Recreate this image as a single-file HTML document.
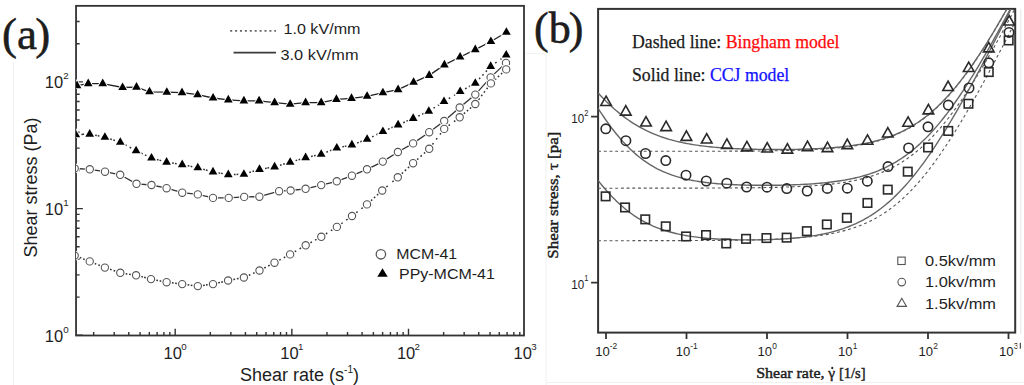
<!DOCTYPE html><html><head><meta charset="utf-8"><style>html,body{margin:0;padding:0;background:#fff;width:1024px;height:385px;overflow:hidden}svg{display:block}</style></head><body>
<svg width="1024" height="385" viewBox="0 0 1024 385">
<rect width="1024" height="385" fill="#fff"/>
<line x1="13.5" y1="62" x2="13.5" y2="385" stroke="#f0f0f0" stroke-width="1"/>
<line x1="546" y1="54" x2="546" y2="385" stroke="#f0f0f0" stroke-width="1"/>
<line x1="1020.8" y1="9" x2="1020.8" y2="334" stroke="#e6e6e6" stroke-width="1"/>
<line x1="546" y1="382.5" x2="1024" y2="382.5" stroke="#f0f0f0" stroke-width="1"/>
<line x1="526" y1="53.5" x2="546" y2="53.5" stroke="#f2f2f2" stroke-width="1"/>
<g font-family="Liberation Serif, serif" fill="#1e1e1e"><text x="2" y="48.6" font-size="45" stroke="#111" stroke-width="0.5">(a<tspan dx="-1.8">)</tspan></text></g>
<path d="M76.05 335.30H82.85M76.05 297.16H79.65M76.05 274.85H79.65M76.05 259.02H79.65M76.05 246.74H79.65M76.05 236.71H79.65M76.05 228.23H79.65M76.05 220.88H79.65M76.05 214.40H79.65M76.05 208.60H82.85M76.05 170.46H79.65M76.05 148.15H79.65M76.05 132.32H79.65M76.05 120.04H79.65M76.05 110.01H79.65M76.05 101.53H79.65M76.05 94.18H79.65M76.05 87.70H79.65M76.05 81.90H82.85M76.05 43.76H79.65M76.05 21.45H79.65M93.67 335.50V331.90M114.21 335.50V331.90M128.78 335.50V331.90M140.08 335.50V331.90M149.32 335.50V331.90M157.13 335.50V331.90M163.90 335.50V331.90M169.86 335.50V331.90M175.20 335.50V328.70M210.32 335.50V331.90M230.86 335.50V331.90M245.43 335.50V331.90M256.73 335.50V331.90M265.97 335.50V331.90M273.78 335.50V331.90M280.55 335.50V331.90M286.51 335.50V331.90M291.85 335.50V328.70M326.97 335.50V331.90M347.51 335.50V331.90M362.08 335.50V331.90M373.38 335.50V331.90M382.62 335.50V331.90M390.43 335.50V331.90M397.20 335.50V331.90M403.16 335.50V331.90M408.50 335.50V328.70M443.62 335.50V331.90M464.16 335.50V331.90M478.73 335.50V331.90M490.03 335.50V331.90M499.27 335.50V331.90M507.08 335.50V331.90M513.85 335.50V331.90M519.81 335.50V331.90" stroke="#333" stroke-width="1.4" fill="none"/>
<rect x="76.05" y="5.85" width="447.95" height="329.65" fill="none" stroke="#333" stroke-width="1.8"/>
<g font-family="Liberation Sans, sans-serif" fill="#1e1e1e">
<text x="68.6" y="88.4" font-size="16.5" text-anchor="end">10<tspan font-size="9.8" dy="-9.1">2</tspan></text>
<text x="68.6" y="215.0" font-size="16.5" text-anchor="end">10<tspan font-size="9.8" dy="-9.1">1</tspan></text>
<text x="68.6" y="341.7" font-size="16.5" text-anchor="end">10<tspan font-size="9.8" dy="-9.1">0</tspan></text>
<text x="175.1" y="359.2" font-size="16.5" text-anchor="middle">10<tspan font-size="9.7" dx="-0.7" dy="-9.3">0</tspan></text>
<text x="291.8" y="359.2" font-size="16.5" text-anchor="middle">10<tspan font-size="9.7" dx="-0.7" dy="-9.3">1</tspan></text>
<text x="408.4" y="359.2" font-size="16.5" text-anchor="middle">10<tspan font-size="9.7" dx="-0.7" dy="-9.3">2</tspan></text>
<text x="525.1" y="359.2" font-size="16.5" text-anchor="middle">10<tspan font-size="9.7" dx="-0.7" dy="-9.3">3</tspan></text>
<text x="240" y="380.6" font-size="18">Shear rate (s<tspan font-size="10" dy="-7.6">-1</tspan><tspan dy="7.6">)</tspan></text>
<text transform="translate(37.2 257.6) rotate(-90)" x="0" y="0" font-size="18">Shear stress (Pa)</text>
<text x="283.5" y="33.8" font-size="14.6" textLength="77" lengthAdjust="spacingAndGlyphs">1.0 kV/mm</text>
<text x="280.5" y="59.8" font-size="14.6" textLength="78" lengthAdjust="spacingAndGlyphs">3.0 kV/mm</text>
<text x="396.3" y="258.8" font-size="14.6" textLength="60.8" lengthAdjust="spacingAndGlyphs">MCM-41</text>
<text x="399" y="278.7" font-size="14.9" textLength="95.8" lengthAdjust="spacingAndGlyphs">PPy-MCM-41</text>
</g>
<line x1="230.2" y1="30.9" x2="276" y2="30.9" stroke="#666" stroke-width="1.7" stroke-dasharray="2 2.9"/>
<line x1="233.5" y1="52.7" x2="276" y2="52.7" stroke="#3a3a3a" stroke-width="1.7"/>
<circle cx="380.9" cy="254.3" r="4.7" fill="#fff" stroke="#555" stroke-width="1.3"/>
<polygon points="382.50,268.37 377.30,276.67 387.70,276.67" fill="#000"/>
<defs><clipPath id="ca"><rect x="76.05" y="5.85" width="447.95" height="329.65"/></clipPath>
<clipPath id="cb"><rect x="598.10" y="8.90" width="417.10" height="323.70"/></clipPath></defs>
<g clip-path="url(#ca)">
<path d="M77.0 85.6 L88.2 83.6 L102.7 83.6 L122.6 87.5 L136.5 87.1 L149.5 91.8 L166.8 92.2 L182.0 92.6 L197.6 94.7 L213.1 98.0 L228.3 99.9 L243.9 100.9 L259.1 100.9 L274.6 102.6 L290.2 104.2 L305.6 102.6 L321.2 102.6 L336.4 99.4 L351.5 98.4 L367.1 96.3 L382.9 92.7 L398.1 89.6 L413.6 82.3 L429.2 75.4 L444.4 64.9 L460.1 57.0 L475.3 49.6 L490.9 41.5 L506.4 32.2" fill="none" stroke="#222" stroke-width="1.3"/>
<path d="M81.40 134.40L83.10 134.34M82.40 134.36L84.10 134.30M95.19 135.22L96.85 135.56M97.75 135.74L99.41 136.08M110.23 138.93L111.84 139.45M113.36 139.95L114.97 140.47M125.23 144.85L126.73 145.66M129.67 147.24L131.17 148.05M141.16 153.10L142.70 153.83M144.90 154.87L146.44 155.60M156.90 159.47L158.54 159.91M159.56 160.19L161.20 160.63M172.13 162.99L173.81 163.26M174.99 163.44L176.67 163.71M187.69 165.73L189.35 166.07M190.65 166.33L192.31 166.67M203.21 169.26L204.85 169.70M205.95 170.00L207.59 170.44M218.51 172.87L220.19 173.17M221.11 173.33L222.79 173.63M233.90 174.46L235.60 174.41M236.60 174.39L238.30 174.34M249.25 172.55L250.88 172.05M252.52 171.55L254.15 171.05M265.02 168.49L266.70 168.21M267.40 168.09L269.08 167.81M279.96 165.28L281.59 164.79M283.21 164.31L284.84 163.82M295.57 160.60L297.19 160.11M298.61 159.69L300.23 159.20M311.08 156.44L312.74 156.09M314.06 155.81L315.72 155.46M326.39 152.20L327.97 151.57M330.03 150.73L331.61 150.10M342.29 146.87L343.95 146.53M344.75 146.37L346.41 146.03M357.15 142.96L358.75 142.38M360.25 141.82L361.85 141.24M372.12 136.82L373.65 136.07M376.35 134.73L377.88 133.98M388.04 129.27L389.60 128.59M391.40 127.81L392.96 127.13M403.24 122.69L404.81 122.01M406.49 121.29L408.06 120.61M418.28 116.05L419.83 115.34M422.17 114.26L423.72 113.55M433.52 108.19L434.95 107.27M437.85 105.43L439.28 104.51M448.77 98.56L450.21 97.67M453.99 95.33L455.43 94.44M465.11 88.80L466.60 87.98M468.90 86.72L470.39 85.90M479.08 79.07L480.23 77.82M482.43 75.43L483.57 74.17M485.77 71.78L486.92 70.53M495.21 63.08L496.58 62.07M500.32 59.33L501.69 58.32" fill="none" stroke="#333" stroke-width="1.5"/>
<path d="M74.7 168.4 L89.8 169.3 L105.0 171.7 L120.2 174.8 L136.5 183.8 L151.5 185.0 L166.6 188.2 L182.2 192.7 L197.8 194.4 L213.0 197.9 L228.7 197.9 L244.2 196.9 L259.4 196.7 L279.1 191.2 L290.6 190.5 L305.6 188.8 L321.2 185.1 L336.8 181.3 L351.9 175.7 L367.0 169.3 L382.8 161.6 L397.9 152.0 L413.1 143.4 L429.2 132.2 L444.2 121.0 L459.7 107.5 L475.3 94.6 L490.6 77.4 L506.0 62.9" fill="none" stroke="#333" stroke-width="1.3"/>
<path d="M79.74 257.55L81.32 258.16M83.08 258.84L84.66 259.45M94.70 263.44L96.27 264.08M98.33 264.92L99.90 265.56M110.02 269.33L111.63 269.87M113.57 270.53L115.18 271.07M125.63 273.64L127.31 273.91M129.09 274.19L130.77 274.46M141.33 276.63L142.98 277.05M144.12 277.35L145.77 277.77M156.30 280.15L157.96 280.48M159.64 280.82L161.30 281.15M171.96 282.85L173.65 283.06M175.15 283.24L176.84 283.45M187.56 284.79L189.24 285.00M190.76 285.20L192.44 285.41M203.15 285.40L204.84 285.17M205.96 285.03L207.65 284.80M218.25 282.85L219.91 282.45M221.19 282.15L222.85 281.75M233.41 279.49L235.08 279.18M236.92 278.82L238.59 278.51M248.83 275.29L250.38 274.59M253.02 273.41L254.57 272.71M264.29 268.01L265.80 267.22M268.20 265.98L269.71 265.19M279.27 260.16L280.77 259.37M283.83 257.73L285.33 256.94M294.76 251.68L296.23 250.82M299.57 248.88L301.04 248.02M310.44 242.72L311.93 241.90M315.07 240.20L316.56 239.38M325.86 233.91L327.29 233.00M330.91 230.70L332.34 229.79M341.28 223.74L342.66 222.74M346.24 220.16L347.62 219.16M356.27 212.70L357.62 211.66M361.38 208.74L362.73 207.70M370.98 200.76L372.24 199.61M373.97 198.02L375.23 196.88M376.96 195.29L378.22 194.14M386.32 187.01L387.62 185.91M392.38 181.89L393.68 180.79M401.77 173.64L403.02 172.49M404.82 170.83L406.08 169.67M407.88 168.01L409.13 166.86M417.12 159.60L418.39 158.47M420.52 156.57L421.78 155.43M423.91 153.53L425.18 152.40M432.45 144.49L433.47 143.13M436.19 139.53L437.21 138.17M439.93 134.57L440.95 133.21M448.52 125.66L449.88 124.65M454.02 121.55L455.38 120.54M463.81 113.80L465.10 112.69M466.85 111.20L468.15 110.10M469.90 108.61L471.19 107.50M478.56 99.70L479.59 98.34M481.24 96.15L482.27 94.79M483.93 92.61L484.96 91.25M486.61 89.06L487.64 87.70M494.88 79.75L496.14 78.61M497.92 76.97L499.18 75.83M500.96 74.19L502.22 73.05" fill="none" stroke="#333" stroke-width="1.5"/>
<polygon points="77.00,80.53 72.65,88.13 81.35,88.13" fill="#000" stroke="#fff" stroke-width="1.8" paint-order="stroke"/>
<polygon points="88.20,78.53 83.85,86.13 92.55,86.13" fill="#000" stroke="#fff" stroke-width="1.8" paint-order="stroke"/>
<polygon points="102.70,78.53 98.35,86.13 107.05,86.13" fill="#000" stroke="#fff" stroke-width="1.8" paint-order="stroke"/>
<polygon points="122.60,82.43 118.25,90.03 126.95,90.03" fill="#000" stroke="#fff" stroke-width="1.8" paint-order="stroke"/>
<polygon points="136.50,82.03 132.15,89.63 140.85,89.63" fill="#000" stroke="#fff" stroke-width="1.8" paint-order="stroke"/>
<polygon points="149.50,86.73 145.15,94.33 153.85,94.33" fill="#000" stroke="#fff" stroke-width="1.8" paint-order="stroke"/>
<polygon points="166.80,87.13 162.45,94.73 171.15,94.73" fill="#000" stroke="#fff" stroke-width="1.8" paint-order="stroke"/>
<polygon points="182.00,87.53 177.65,95.13 186.35,95.13" fill="#000" stroke="#fff" stroke-width="1.8" paint-order="stroke"/>
<polygon points="197.60,89.63 193.25,97.23 201.95,97.23" fill="#000" stroke="#fff" stroke-width="1.8" paint-order="stroke"/>
<polygon points="213.10,92.93 208.75,100.53 217.45,100.53" fill="#000" stroke="#fff" stroke-width="1.8" paint-order="stroke"/>
<polygon points="228.30,94.83 223.95,102.43 232.65,102.43" fill="#000" stroke="#fff" stroke-width="1.8" paint-order="stroke"/>
<polygon points="243.90,95.83 239.55,103.43 248.25,103.43" fill="#000" stroke="#fff" stroke-width="1.8" paint-order="stroke"/>
<polygon points="259.10,95.83 254.75,103.43 263.45,103.43" fill="#000" stroke="#fff" stroke-width="1.8" paint-order="stroke"/>
<polygon points="274.60,97.53 270.25,105.13 278.95,105.13" fill="#000" stroke="#fff" stroke-width="1.8" paint-order="stroke"/>
<polygon points="290.20,99.13 285.85,106.73 294.55,106.73" fill="#000" stroke="#fff" stroke-width="1.8" paint-order="stroke"/>
<polygon points="305.60,97.53 301.25,105.13 309.95,105.13" fill="#000" stroke="#fff" stroke-width="1.8" paint-order="stroke"/>
<polygon points="321.20,97.53 316.85,105.13 325.55,105.13" fill="#000" stroke="#fff" stroke-width="1.8" paint-order="stroke"/>
<polygon points="336.40,94.33 332.05,101.93 340.75,101.93" fill="#000" stroke="#fff" stroke-width="1.8" paint-order="stroke"/>
<polygon points="351.50,93.33 347.15,100.93 355.85,100.93" fill="#000" stroke="#fff" stroke-width="1.8" paint-order="stroke"/>
<polygon points="367.10,91.23 362.75,98.83 371.45,98.83" fill="#000" stroke="#fff" stroke-width="1.8" paint-order="stroke"/>
<polygon points="382.90,87.63 378.55,95.23 387.25,95.23" fill="#000" stroke="#fff" stroke-width="1.8" paint-order="stroke"/>
<polygon points="398.10,84.53 393.75,92.13 402.45,92.13" fill="#000" stroke="#fff" stroke-width="1.8" paint-order="stroke"/>
<polygon points="413.60,77.23 409.25,84.83 417.95,84.83" fill="#000" stroke="#fff" stroke-width="1.8" paint-order="stroke"/>
<polygon points="429.20,70.33 424.85,77.93 433.55,77.93" fill="#000" stroke="#fff" stroke-width="1.8" paint-order="stroke"/>
<polygon points="444.40,59.83 440.05,67.43 448.75,67.43" fill="#000" stroke="#fff" stroke-width="1.8" paint-order="stroke"/>
<polygon points="460.10,51.93 455.75,59.53 464.45,59.53" fill="#000" stroke="#fff" stroke-width="1.8" paint-order="stroke"/>
<polygon points="475.30,44.53 470.95,52.13 479.65,52.13" fill="#000" stroke="#fff" stroke-width="1.8" paint-order="stroke"/>
<polygon points="490.90,36.43 486.55,44.03 495.25,44.03" fill="#000" stroke="#fff" stroke-width="1.8" paint-order="stroke"/>
<polygon points="506.40,27.13 502.05,34.73 510.75,34.73" fill="#000" stroke="#fff" stroke-width="1.8" paint-order="stroke"/>
<polygon points="75.80,129.53 71.45,137.13 80.15,137.13" fill="#000" stroke="#fff" stroke-width="1.8" paint-order="stroke"/>
<polygon points="89.70,129.03 85.35,136.63 94.05,136.63" fill="#000" stroke="#fff" stroke-width="1.8" paint-order="stroke"/>
<polygon points="104.90,132.13 100.55,139.73 109.25,139.73" fill="#000" stroke="#fff" stroke-width="1.8" paint-order="stroke"/>
<polygon points="120.30,137.13 115.95,144.73 124.65,144.73" fill="#000" stroke="#fff" stroke-width="1.8" paint-order="stroke"/>
<polygon points="136.10,145.63 131.75,153.23 140.45,153.23" fill="#000" stroke="#fff" stroke-width="1.8" paint-order="stroke"/>
<polygon points="151.50,152.93 147.15,160.53 155.85,160.53" fill="#000" stroke="#fff" stroke-width="1.8" paint-order="stroke"/>
<polygon points="166.60,157.03 162.25,164.63 170.95,164.63" fill="#000" stroke="#fff" stroke-width="1.8" paint-order="stroke"/>
<polygon points="182.20,159.53 177.85,167.13 186.55,167.13" fill="#000" stroke="#fff" stroke-width="1.8" paint-order="stroke"/>
<polygon points="197.80,162.73 193.45,170.33 202.15,170.33" fill="#000" stroke="#fff" stroke-width="1.8" paint-order="stroke"/>
<polygon points="213.00,166.83 208.65,174.43 217.35,174.43" fill="#000" stroke="#fff" stroke-width="1.8" paint-order="stroke"/>
<polygon points="228.30,169.53 223.95,177.13 232.65,177.13" fill="#000" stroke="#fff" stroke-width="1.8" paint-order="stroke"/>
<polygon points="243.90,169.13 239.55,176.73 248.25,176.73" fill="#000" stroke="#fff" stroke-width="1.8" paint-order="stroke"/>
<polygon points="259.50,164.33 255.15,171.93 263.85,171.93" fill="#000" stroke="#fff" stroke-width="1.8" paint-order="stroke"/>
<polygon points="274.60,161.83 270.25,169.43 278.95,169.43" fill="#000" stroke="#fff" stroke-width="1.8" paint-order="stroke"/>
<polygon points="290.20,157.13 285.85,164.73 294.55,164.73" fill="#000" stroke="#fff" stroke-width="1.8" paint-order="stroke"/>
<polygon points="305.60,152.53 301.25,160.13 309.95,160.13" fill="#000" stroke="#fff" stroke-width="1.8" paint-order="stroke"/>
<polygon points="321.20,149.23 316.85,156.83 325.55,156.83" fill="#000" stroke="#fff" stroke-width="1.8" paint-order="stroke"/>
<polygon points="336.80,142.93 332.45,150.53 341.15,150.53" fill="#000" stroke="#fff" stroke-width="1.8" paint-order="stroke"/>
<polygon points="351.90,139.83 347.55,147.43 356.25,147.43" fill="#000" stroke="#fff" stroke-width="1.8" paint-order="stroke"/>
<polygon points="367.10,134.23 362.75,141.83 371.45,141.83" fill="#000" stroke="#fff" stroke-width="1.8" paint-order="stroke"/>
<polygon points="382.90,126.43 378.55,134.03 387.25,134.03" fill="#000" stroke="#fff" stroke-width="1.8" paint-order="stroke"/>
<polygon points="398.10,119.83 393.75,127.43 402.45,127.43" fill="#000" stroke="#fff" stroke-width="1.8" paint-order="stroke"/>
<polygon points="413.20,113.33 408.85,120.93 417.55,120.93" fill="#000" stroke="#fff" stroke-width="1.8" paint-order="stroke"/>
<polygon points="428.80,106.13 424.45,113.73 433.15,113.73" fill="#000" stroke="#fff" stroke-width="1.8" paint-order="stroke"/>
<polygon points="444.00,96.43 439.65,104.03 448.35,104.03" fill="#000" stroke="#fff" stroke-width="1.8" paint-order="stroke"/>
<polygon points="460.20,86.43 455.85,94.03 464.55,94.03" fill="#000" stroke="#fff" stroke-width="1.8" paint-order="stroke"/>
<polygon points="475.30,78.13 470.95,85.73 479.65,85.73" fill="#000" stroke="#fff" stroke-width="1.8" paint-order="stroke"/>
<polygon points="490.70,61.33 486.35,68.93 495.05,68.93" fill="#000" stroke="#fff" stroke-width="1.8" paint-order="stroke"/>
<polygon points="506.20,49.93 501.85,57.53 510.55,57.53" fill="#000" stroke="#fff" stroke-width="1.8" paint-order="stroke"/>
<circle cx="74.7" cy="168.4" r="3.8" fill="#fff" stroke="#fff" stroke-width="2.6"/>
<circle cx="74.7" cy="168.4" r="3.65" fill="#fff" stroke="#555" stroke-width="1.1"/>
<circle cx="89.8" cy="169.3" r="3.8" fill="#fff" stroke="#fff" stroke-width="2.6"/>
<circle cx="89.8" cy="169.3" r="3.65" fill="#fff" stroke="#555" stroke-width="1.1"/>
<circle cx="105.0" cy="171.7" r="3.8" fill="#fff" stroke="#fff" stroke-width="2.6"/>
<circle cx="105.0" cy="171.7" r="3.65" fill="#fff" stroke="#555" stroke-width="1.1"/>
<circle cx="120.2" cy="174.8" r="3.8" fill="#fff" stroke="#fff" stroke-width="2.6"/>
<circle cx="120.2" cy="174.8" r="3.65" fill="#fff" stroke="#555" stroke-width="1.1"/>
<circle cx="136.5" cy="183.8" r="3.8" fill="#fff" stroke="#fff" stroke-width="2.6"/>
<circle cx="136.5" cy="183.8" r="3.65" fill="#fff" stroke="#555" stroke-width="1.1"/>
<circle cx="151.5" cy="185.0" r="3.8" fill="#fff" stroke="#fff" stroke-width="2.6"/>
<circle cx="151.5" cy="185.0" r="3.65" fill="#fff" stroke="#555" stroke-width="1.1"/>
<circle cx="166.6" cy="188.2" r="3.8" fill="#fff" stroke="#fff" stroke-width="2.6"/>
<circle cx="166.6" cy="188.2" r="3.65" fill="#fff" stroke="#555" stroke-width="1.1"/>
<circle cx="182.2" cy="192.7" r="3.8" fill="#fff" stroke="#fff" stroke-width="2.6"/>
<circle cx="182.2" cy="192.7" r="3.65" fill="#fff" stroke="#555" stroke-width="1.1"/>
<circle cx="197.8" cy="194.4" r="3.8" fill="#fff" stroke="#fff" stroke-width="2.6"/>
<circle cx="197.8" cy="194.4" r="3.65" fill="#fff" stroke="#555" stroke-width="1.1"/>
<circle cx="213.0" cy="197.9" r="3.8" fill="#fff" stroke="#fff" stroke-width="2.6"/>
<circle cx="213.0" cy="197.9" r="3.65" fill="#fff" stroke="#555" stroke-width="1.1"/>
<circle cx="228.7" cy="197.9" r="3.8" fill="#fff" stroke="#fff" stroke-width="2.6"/>
<circle cx="228.7" cy="197.9" r="3.65" fill="#fff" stroke="#555" stroke-width="1.1"/>
<circle cx="244.2" cy="196.9" r="3.8" fill="#fff" stroke="#fff" stroke-width="2.6"/>
<circle cx="244.2" cy="196.9" r="3.65" fill="#fff" stroke="#555" stroke-width="1.1"/>
<circle cx="259.4" cy="196.7" r="3.8" fill="#fff" stroke="#fff" stroke-width="2.6"/>
<circle cx="259.4" cy="196.7" r="3.65" fill="#fff" stroke="#555" stroke-width="1.1"/>
<circle cx="279.1" cy="191.2" r="3.8" fill="#fff" stroke="#fff" stroke-width="2.6"/>
<circle cx="279.1" cy="191.2" r="3.65" fill="#fff" stroke="#555" stroke-width="1.1"/>
<circle cx="290.6" cy="190.5" r="3.8" fill="#fff" stroke="#fff" stroke-width="2.6"/>
<circle cx="290.6" cy="190.5" r="3.65" fill="#fff" stroke="#555" stroke-width="1.1"/>
<circle cx="305.6" cy="188.8" r="3.8" fill="#fff" stroke="#fff" stroke-width="2.6"/>
<circle cx="305.6" cy="188.8" r="3.65" fill="#fff" stroke="#555" stroke-width="1.1"/>
<circle cx="321.2" cy="185.1" r="3.8" fill="#fff" stroke="#fff" stroke-width="2.6"/>
<circle cx="321.2" cy="185.1" r="3.65" fill="#fff" stroke="#555" stroke-width="1.1"/>
<circle cx="336.8" cy="181.3" r="3.8" fill="#fff" stroke="#fff" stroke-width="2.6"/>
<circle cx="336.8" cy="181.3" r="3.65" fill="#fff" stroke="#555" stroke-width="1.1"/>
<circle cx="351.9" cy="175.7" r="3.8" fill="#fff" stroke="#fff" stroke-width="2.6"/>
<circle cx="351.9" cy="175.7" r="3.65" fill="#fff" stroke="#555" stroke-width="1.1"/>
<circle cx="367.0" cy="169.3" r="3.8" fill="#fff" stroke="#fff" stroke-width="2.6"/>
<circle cx="367.0" cy="169.3" r="3.65" fill="#fff" stroke="#555" stroke-width="1.1"/>
<circle cx="382.8" cy="161.6" r="3.8" fill="#fff" stroke="#fff" stroke-width="2.6"/>
<circle cx="382.8" cy="161.6" r="3.65" fill="#fff" stroke="#555" stroke-width="1.1"/>
<circle cx="397.9" cy="152.0" r="3.8" fill="#fff" stroke="#fff" stroke-width="2.6"/>
<circle cx="397.9" cy="152.0" r="3.65" fill="#fff" stroke="#555" stroke-width="1.1"/>
<circle cx="413.1" cy="143.4" r="3.8" fill="#fff" stroke="#fff" stroke-width="2.6"/>
<circle cx="413.1" cy="143.4" r="3.65" fill="#fff" stroke="#555" stroke-width="1.1"/>
<circle cx="429.2" cy="132.2" r="3.8" fill="#fff" stroke="#fff" stroke-width="2.6"/>
<circle cx="429.2" cy="132.2" r="3.65" fill="#fff" stroke="#555" stroke-width="1.1"/>
<circle cx="444.2" cy="121.0" r="3.8" fill="#fff" stroke="#fff" stroke-width="2.6"/>
<circle cx="444.2" cy="121.0" r="3.65" fill="#fff" stroke="#555" stroke-width="1.1"/>
<circle cx="459.7" cy="107.5" r="3.8" fill="#fff" stroke="#fff" stroke-width="2.6"/>
<circle cx="459.7" cy="107.5" r="3.65" fill="#fff" stroke="#555" stroke-width="1.1"/>
<circle cx="475.3" cy="94.6" r="3.8" fill="#fff" stroke="#fff" stroke-width="2.6"/>
<circle cx="475.3" cy="94.6" r="3.65" fill="#fff" stroke="#555" stroke-width="1.1"/>
<circle cx="490.6" cy="77.4" r="3.8" fill="#fff" stroke="#fff" stroke-width="2.6"/>
<circle cx="490.6" cy="77.4" r="3.65" fill="#fff" stroke="#555" stroke-width="1.1"/>
<circle cx="506.0" cy="62.9" r="3.8" fill="#fff" stroke="#fff" stroke-width="2.6"/>
<circle cx="506.0" cy="62.9" r="3.65" fill="#fff" stroke="#555" stroke-width="1.1"/>
<circle cx="74.7" cy="255.6" r="3.8" fill="#fff" stroke="#fff" stroke-width="2.6"/>
<circle cx="74.7" cy="255.6" r="3.65" fill="#fff" stroke="#555" stroke-width="1.1"/>
<circle cx="89.7" cy="261.4" r="3.8" fill="#fff" stroke="#fff" stroke-width="2.6"/>
<circle cx="89.7" cy="261.4" r="3.65" fill="#fff" stroke="#555" stroke-width="1.1"/>
<circle cx="104.9" cy="267.6" r="3.8" fill="#fff" stroke="#fff" stroke-width="2.6"/>
<circle cx="104.9" cy="267.6" r="3.65" fill="#fff" stroke="#555" stroke-width="1.1"/>
<circle cx="120.3" cy="272.8" r="3.8" fill="#fff" stroke="#fff" stroke-width="2.6"/>
<circle cx="120.3" cy="272.8" r="3.65" fill="#fff" stroke="#555" stroke-width="1.1"/>
<circle cx="136.1" cy="275.3" r="3.8" fill="#fff" stroke="#fff" stroke-width="2.6"/>
<circle cx="136.1" cy="275.3" r="3.65" fill="#fff" stroke="#555" stroke-width="1.1"/>
<circle cx="151.0" cy="279.1" r="3.8" fill="#fff" stroke="#fff" stroke-width="2.6"/>
<circle cx="151.0" cy="279.1" r="3.65" fill="#fff" stroke="#555" stroke-width="1.1"/>
<circle cx="166.6" cy="282.2" r="3.8" fill="#fff" stroke="#fff" stroke-width="2.6"/>
<circle cx="166.6" cy="282.2" r="3.65" fill="#fff" stroke="#555" stroke-width="1.1"/>
<circle cx="182.2" cy="284.1" r="3.8" fill="#fff" stroke="#fff" stroke-width="2.6"/>
<circle cx="182.2" cy="284.1" r="3.65" fill="#fff" stroke="#555" stroke-width="1.1"/>
<circle cx="197.8" cy="286.1" r="3.8" fill="#fff" stroke="#fff" stroke-width="2.6"/>
<circle cx="197.8" cy="286.1" r="3.65" fill="#fff" stroke="#555" stroke-width="1.1"/>
<circle cx="213.0" cy="284.1" r="3.8" fill="#fff" stroke="#fff" stroke-width="2.6"/>
<circle cx="213.0" cy="284.1" r="3.65" fill="#fff" stroke="#555" stroke-width="1.1"/>
<circle cx="228.1" cy="280.5" r="3.8" fill="#fff" stroke="#fff" stroke-width="2.6"/>
<circle cx="228.1" cy="280.5" r="3.65" fill="#fff" stroke="#555" stroke-width="1.1"/>
<circle cx="243.9" cy="277.5" r="3.8" fill="#fff" stroke="#fff" stroke-width="2.6"/>
<circle cx="243.9" cy="277.5" r="3.65" fill="#fff" stroke="#555" stroke-width="1.1"/>
<circle cx="259.5" cy="270.5" r="3.8" fill="#fff" stroke="#fff" stroke-width="2.6"/>
<circle cx="259.5" cy="270.5" r="3.65" fill="#fff" stroke="#555" stroke-width="1.1"/>
<circle cx="274.5" cy="262.7" r="3.8" fill="#fff" stroke="#fff" stroke-width="2.6"/>
<circle cx="274.5" cy="262.7" r="3.65" fill="#fff" stroke="#555" stroke-width="1.1"/>
<circle cx="290.1" cy="254.4" r="3.8" fill="#fff" stroke="#fff" stroke-width="2.6"/>
<circle cx="290.1" cy="254.4" r="3.65" fill="#fff" stroke="#555" stroke-width="1.1"/>
<circle cx="305.7" cy="245.3" r="3.8" fill="#fff" stroke="#fff" stroke-width="2.6"/>
<circle cx="305.7" cy="245.3" r="3.65" fill="#fff" stroke="#555" stroke-width="1.1"/>
<circle cx="321.3" cy="236.8" r="3.8" fill="#fff" stroke="#fff" stroke-width="2.6"/>
<circle cx="321.3" cy="236.8" r="3.65" fill="#fff" stroke="#555" stroke-width="1.1"/>
<circle cx="336.9" cy="226.9" r="3.8" fill="#fff" stroke="#fff" stroke-width="2.6"/>
<circle cx="336.9" cy="226.9" r="3.65" fill="#fff" stroke="#555" stroke-width="1.1"/>
<circle cx="352.0" cy="216.0" r="3.8" fill="#fff" stroke="#fff" stroke-width="2.6"/>
<circle cx="352.0" cy="216.0" r="3.65" fill="#fff" stroke="#555" stroke-width="1.1"/>
<circle cx="367.0" cy="204.4" r="3.8" fill="#fff" stroke="#fff" stroke-width="2.6"/>
<circle cx="367.0" cy="204.4" r="3.65" fill="#fff" stroke="#555" stroke-width="1.1"/>
<circle cx="382.2" cy="190.5" r="3.8" fill="#fff" stroke="#fff" stroke-width="2.6"/>
<circle cx="382.2" cy="190.5" r="3.65" fill="#fff" stroke="#555" stroke-width="1.1"/>
<circle cx="397.8" cy="177.3" r="3.8" fill="#fff" stroke="#fff" stroke-width="2.6"/>
<circle cx="397.8" cy="177.3" r="3.65" fill="#fff" stroke="#555" stroke-width="1.1"/>
<circle cx="413.1" cy="163.2" r="3.8" fill="#fff" stroke="#fff" stroke-width="2.6"/>
<circle cx="413.1" cy="163.2" r="3.65" fill="#fff" stroke="#555" stroke-width="1.1"/>
<circle cx="429.2" cy="148.8" r="3.8" fill="#fff" stroke="#fff" stroke-width="2.6"/>
<circle cx="429.2" cy="148.8" r="3.65" fill="#fff" stroke="#555" stroke-width="1.1"/>
<circle cx="444.2" cy="128.9" r="3.8" fill="#fff" stroke="#fff" stroke-width="2.6"/>
<circle cx="444.2" cy="128.9" r="3.65" fill="#fff" stroke="#555" stroke-width="1.1"/>
<circle cx="459.7" cy="117.3" r="3.8" fill="#fff" stroke="#fff" stroke-width="2.6"/>
<circle cx="459.7" cy="117.3" r="3.65" fill="#fff" stroke="#555" stroke-width="1.1"/>
<circle cx="475.3" cy="104.0" r="3.8" fill="#fff" stroke="#fff" stroke-width="2.6"/>
<circle cx="475.3" cy="104.0" r="3.65" fill="#fff" stroke="#555" stroke-width="1.1"/>
<circle cx="490.9" cy="83.4" r="3.8" fill="#fff" stroke="#fff" stroke-width="2.6"/>
<circle cx="490.9" cy="83.4" r="3.65" fill="#fff" stroke="#555" stroke-width="1.1"/>
<circle cx="506.2" cy="69.4" r="3.8" fill="#fff" stroke="#fff" stroke-width="2.6"/>
<circle cx="506.2" cy="69.4" r="3.65" fill="#fff" stroke="#555" stroke-width="1.1"/>
</g>
<g font-family="Liberation Serif, serif" fill="#1e1e1e"><text x="534" y="43.2" font-size="44" stroke="#111" stroke-width="0.5">(b<tspan dx="-2">)</tspan></text></g>
<path d="M606.00 332.60V339.10M686.50 332.60V339.10M767.00 332.60V339.10M847.50 332.60V339.10M928.00 332.60V339.10M1008.50 332.60V339.10M598.10 282.70H591.10M598.10 116.60H591.10" stroke="#333" stroke-width="1.8" fill="none"/>
<rect x="598.10" y="8.90" width="417.10" height="323.70" fill="none" stroke="#333" stroke-width="2"/>
<g font-family="Liberation Sans, sans-serif" fill="#1e1e1e">
<text x="606.2" y="356.2" font-size="13.1" text-anchor="middle">10<tspan font-size="8.4" dy="-7.3">-2</tspan></text>
<text x="686.7" y="356.2" font-size="13.1" text-anchor="middle">10<tspan font-size="8.4" dy="-7.3">-1</tspan></text>
<text x="767.2" y="356.2" font-size="13.1" text-anchor="middle">10<tspan font-size="8.4" dy="-7.3">0</tspan></text>
<text x="847.7" y="356.2" font-size="13.1" text-anchor="middle">10<tspan font-size="8.4" dy="-7.3">1</tspan></text>
<text x="928.2" y="356.2" font-size="13.1" text-anchor="middle">10<tspan font-size="8.4" dy="-7.3">2</tspan></text>
<text x="1008.7" y="356.2" font-size="13.1" text-anchor="middle">10<tspan font-size="8.4" dy="-7.3">3</tspan></text>
<text transform="translate(588.3 123.4) scale(0.89 1)" font-size="13.1" text-anchor="end">10<tspan font-size="8.4" dy="-7.3">2</tspan></text>
<text transform="translate(588.3 288.6) scale(0.89 1)" font-size="13.1" text-anchor="end">10<tspan font-size="8.4" dy="-7.3">1</tspan></text>
<text x="925" y="266.0" font-size="15.2" textLength="71" lengthAdjust="spacingAndGlyphs">0.5kv/mm</text>
<text x="925" y="287.1" font-size="15.2" textLength="71" lengthAdjust="spacingAndGlyphs">1.0kv/mm</text>
<text x="925" y="309.1" font-size="15.2" textLength="71" lengthAdjust="spacingAndGlyphs">1.5kv/mm</text>
</g>
<rect x="1017.4" y="340.5" width="2.2" height="10" fill="#fff"/>
<rect x="1019.7" y="342.8" width="1.3" height="5.9" fill="#555"/>
<g font-family="Liberation Serif, serif" font-size="18.4" stroke-width="0.25">
<text x="632.0" y="48.3" fill="#1a1a1a" stroke="#1a1a1a" textLength="207.5" lengthAdjust="spacingAndGlyphs">Dashed line: <tspan fill="#ff0a0a" stroke="#ff0a0a">Bingham model</tspan></text>
<text x="632.0" y="80.9" fill="#1a1a1a" stroke="#1a1a1a" textLength="157.3" lengthAdjust="spacingAndGlyphs">Solid line: <tspan fill="#1212ff" stroke="#1212ff">CCJ model</tspan></text>
</g>
<g font-family="Liberation Serif, serif" fill="#1e1e1e" stroke="#1e1e1e" stroke-width="0.45">
<text x="756.2" y="377.8" font-size="15.4" textLength="68.3" lengthAdjust="spacingAndGlyphs">Shear rate,</text>
<text x="828.2" y="377.8" font-size="15.4">&#947;</text>
<text x="838.9" y="377.8" font-size="15.6" textLength="26.6" lengthAdjust="spacingAndGlyphs">[1/s]</text>
<circle cx="832.3" cy="368.0" r="0.9"/>
<text transform="translate(558.3 258.7) rotate(-90)" font-size="15.6" textLength="127" lengthAdjust="spacingAndGlyphs">Shear stress, &#964; [pa]</text>
</g>
<rect x="897.8" y="257.1" width="7.4" height="7.4" fill="none" stroke="#555" stroke-width="1.1"/>
<circle cx="901.7" cy="282.1" r="3.8" fill="none" stroke="#555" stroke-width="1.1"/>
<polygon points="901.8,298.3 897.1,306.4 906.5,306.4" fill="none" stroke="#555" stroke-width="1.1"/>
<g clip-path="url(#cb)" fill="none">
<path d="M598.10 151.31 L600.00 151.31 L601.89 151.31 L603.79 151.31 L605.68 151.31 L607.58 151.31 L609.48 151.31 L611.37 151.31 L613.27 151.31 L615.16 151.31 L617.06 151.31 L618.96 151.31 L620.85 151.31 L622.75 151.31 L624.64 151.31 L626.54 151.31 L628.43 151.31 L630.33 151.31 L632.23 151.31 L634.12 151.31 L636.02 151.31 L637.91 151.31 L639.81 151.30 L641.71 151.30 L643.60 151.30 L645.50 151.30 L647.39 151.30 L649.29 151.30 L651.19 151.30 L653.08 151.30 L654.98 151.30 L656.87 151.30 L658.77 151.30 L660.67 151.29 L662.56 151.29 L664.46 151.29 L666.35 151.29 L668.25 151.29 L670.14 151.29 L672.04 151.29 L673.94 151.28 L675.83 151.28 L677.73 151.28 L679.62 151.28 L681.52 151.28 L683.42 151.27 L685.31 151.27 L687.21 151.27 L689.10 151.27 L691.00 151.26 L692.90 151.26 L694.79 151.26 L696.69 151.25 L698.58 151.25 L700.48 151.25 L702.38 151.24 L704.27 151.24 L706.17 151.23 L708.06 151.23 L709.96 151.23 L711.85 151.22 L713.75 151.22 L715.65 151.21 L717.54 151.20 L719.44 151.20 L721.33 151.19 L723.23 151.18 L725.13 151.18 L727.02 151.17 L728.92 151.16 L730.81 151.15 L732.71 151.14 L734.61 151.13 L736.50 151.12 L738.40 151.11 L740.29 151.10 L742.19 151.09 L744.09 151.07 L745.98 151.06 L747.88 151.05 L749.77 151.03 L751.67 151.02 L753.56 151.00 L755.46 150.98 L757.36 150.96 L759.25 150.94 L761.15 150.92 L763.04 150.90 L764.94 150.88 L766.84 150.85 L768.73 150.83 L770.63 150.80 L772.52 150.77 L774.42 150.74 L776.32 150.71 L778.21 150.68 L780.11 150.64 L782.00 150.60 L783.90 150.56 L785.80 150.52 L787.69 150.48 L789.59 150.43 L791.48 150.38 L793.38 150.33 L795.27 150.28 L797.17 150.22 L799.07 150.16 L800.96 150.09 L802.86 150.03 L804.75 149.96 L806.65 149.88 L808.55 149.80 L810.44 149.72 L812.34 149.63 L814.23 149.54 L816.13 149.44 L818.03 149.33 L819.92 149.23 L821.82 149.11 L823.71 148.99 L825.61 148.86 L827.51 148.73 L829.40 148.59 L831.30 148.44 L833.19 148.28 L835.09 148.12 L836.98 147.94 L838.88 147.76 L840.78 147.56 L842.67 147.36 L844.57 147.15 L846.46 146.92 L848.36 146.68 L850.26 146.43 L852.15 146.17 L854.05 145.90 L855.94 145.60 L857.84 145.30 L859.74 144.98 L861.63 144.64 L863.53 144.29 L865.42 143.91 L867.32 143.52 L869.22 143.11 L871.11 142.68 L873.01 142.23 L874.90 141.76 L876.80 141.26 L878.69 140.74 L880.59 140.19 L882.49 139.62 L884.38 139.02 L886.28 138.39 L888.17 137.73 L890.07 137.05 L891.97 136.33 L893.86 135.58 L895.76 134.80 L897.65 133.98 L899.55 133.12 L901.45 132.23 L903.34 131.31 L905.24 130.34 L907.13 129.33 L909.03 128.28 L910.92 127.19 L912.82 126.06 L914.72 124.88 L916.61 123.66 L918.51 122.39 L920.40 121.07 L922.30 119.71 L924.20 118.30 L926.09 116.83 L927.99 115.32 L929.88 113.76 L931.78 112.15 L933.68 110.48 L935.57 108.77 L937.47 107.00 L939.36 105.17 L941.26 103.30 L943.16 101.37 L945.05 99.39 L946.95 97.36 L948.84 95.27 L950.74 93.13 L952.63 90.94 L954.53 88.69 L956.43 86.40 L958.32 84.05 L960.22 81.65 L962.11 79.21 L964.01 76.71 L965.91 74.16 L967.80 71.57 L969.70 68.93 L971.59 66.24 L973.49 63.51 L975.39 60.74 L977.28 57.92 L979.18 55.06 L981.07 52.15 L982.97 49.21 L984.87 46.23 L986.76 43.21 L988.66 40.15 L990.55 37.06 L992.45 33.94 L994.35 30.78 L996.24 27.58 L998.14 24.36 L1000.03 21.11 L1001.93 17.82 L1003.82 14.51 L1005.72 11.17 L1007.62 7.81 L1009.51 4.42 L1011.41 1.01 L1013.30 -2.43 L1015.20 -5.89" stroke="#555" stroke-width="1.1" stroke-dasharray="2.9 2.8"/>
<path d="M598.10 92.90 L600.00 94.97 L601.89 96.98 L603.79 98.95 L605.68 100.87 L607.58 102.74 L609.48 104.55 L611.37 106.32 L613.27 108.04 L615.16 109.71 L617.06 111.33 L618.96 112.90 L620.85 114.43 L622.75 115.90 L624.64 117.33 L626.54 118.71 L628.43 120.05 L630.33 121.34 L632.23 122.59 L634.12 123.79 L636.02 124.95 L637.91 126.07 L639.81 127.15 L641.71 128.19 L643.60 129.18 L645.50 130.14 L647.39 131.07 L649.29 131.95 L651.19 132.81 L653.08 133.62 L654.98 134.41 L656.87 135.16 L658.77 135.88 L660.67 136.57 L662.56 137.23 L664.46 137.86 L666.35 138.47 L668.25 139.05 L670.14 139.60 L672.04 140.13 L673.94 140.63 L675.83 141.12 L677.73 141.58 L679.62 142.02 L681.52 142.44 L683.42 142.84 L685.31 143.22 L687.21 143.58 L689.10 143.93 L691.00 144.26 L692.90 144.57 L694.79 144.87 L696.69 145.16 L698.58 145.43 L700.48 145.69 L702.38 145.93 L704.27 146.16 L706.17 146.38 L708.06 146.59 L709.96 146.79 L711.85 146.98 L713.75 147.16 L715.65 147.33 L717.54 147.49 L719.44 147.65 L721.33 147.79 L723.23 147.93 L725.13 148.06 L727.02 148.18 L728.92 148.29 L730.81 148.40 L732.71 148.50 L734.61 148.60 L736.50 148.69 L738.40 148.78 L740.29 148.85 L742.19 148.93 L744.09 149.00 L745.98 149.06 L747.88 149.12 L749.77 149.18 L751.67 149.23 L753.56 149.28 L755.46 149.32 L757.36 149.36 L759.25 149.39 L761.15 149.42 L763.04 149.45 L764.94 149.47 L766.84 149.49 L768.73 149.51 L770.63 149.52 L772.52 149.53 L774.42 149.54 L776.32 149.54 L778.21 149.54 L780.11 149.53 L782.00 149.53 L783.90 149.51 L785.80 149.50 L787.69 149.48 L789.59 149.46 L791.48 149.43 L793.38 149.40 L795.27 149.37 L797.17 149.33 L799.07 149.29 L800.96 149.24 L802.86 149.19 L804.75 149.13 L806.65 149.07 L808.55 149.01 L810.44 148.94 L812.34 148.86 L814.23 148.78 L816.13 148.70 L818.03 148.61 L819.92 148.51 L821.82 148.40 L823.71 148.29 L825.61 148.17 L827.51 148.05 L829.40 147.92 L831.30 147.78 L833.19 147.63 L835.09 147.47 L836.98 147.30 L838.88 147.13 L840.78 146.94 L842.67 146.74 L844.57 146.53 L846.46 146.31 L848.36 146.08 L850.26 145.84 L852.15 145.58 L854.05 145.31 L855.94 145.03 L857.84 144.73 L859.74 144.41 L861.63 144.08 L863.53 143.73 L865.42 143.36 L867.32 142.98 L869.22 142.57 L871.11 142.14 L873.01 141.70 L874.90 141.23 L876.80 140.73 L878.69 140.22 L880.59 139.68 L882.49 139.11 L884.38 138.51 L886.28 137.89 L888.17 137.24 L890.07 136.56 L891.97 135.84 L893.86 135.10 L895.76 134.32 L897.65 133.51 L899.55 132.66 L901.45 131.77 L903.34 130.85 L905.24 129.89 L907.13 128.89 L909.03 127.84 L910.92 126.76 L912.82 125.63 L914.72 124.46 L916.61 123.24 L918.51 121.98 L920.40 120.67 L922.30 119.31 L924.20 117.90 L926.09 116.45 L927.99 114.94 L929.88 113.39 L931.78 111.78 L933.68 110.12 L935.57 108.41 L937.47 106.65 L939.36 104.83 L941.26 102.96 L943.16 101.04 L945.05 99.06 L946.95 97.04 L948.84 94.96 L950.74 92.82 L952.63 90.64 L954.53 88.40 L956.43 86.11 L958.32 83.77 L960.22 81.38 L962.11 78.93 L964.01 76.44 L965.91 73.90 L967.80 71.32 L969.70 68.68 L971.59 66.00 L973.49 63.27 L975.39 60.50 L977.28 57.69 L979.18 54.83 L981.07 51.93 L982.97 49.00 L984.87 46.02 L986.76 43.00 L988.66 39.95 L990.55 36.86 L992.45 33.74 L994.35 30.59 L996.24 27.40 L998.14 24.18 L1000.03 20.93 L1001.93 17.65 L1003.82 14.34 L1005.72 11.00 L1007.62 7.64 L1009.51 4.26 L1011.41 0.85 L1013.30 -2.59 L1015.20 -6.04" stroke="#666" stroke-width="1.4"/>
<path d="M598.10 188.18 L600.00 188.18 L601.89 188.18 L603.79 188.18 L605.68 188.18 L607.58 188.18 L609.48 188.18 L611.37 188.18 L613.27 188.18 L615.16 188.18 L617.06 188.18 L618.96 188.18 L620.85 188.18 L622.75 188.17 L624.64 188.17 L626.54 188.17 L628.43 188.17 L630.33 188.17 L632.23 188.17 L634.12 188.17 L636.02 188.17 L637.91 188.17 L639.81 188.17 L641.71 188.17 L643.60 188.17 L645.50 188.16 L647.39 188.16 L649.29 188.16 L651.19 188.16 L653.08 188.16 L654.98 188.16 L656.87 188.16 L658.77 188.16 L660.67 188.15 L662.56 188.15 L664.46 188.15 L666.35 188.15 L668.25 188.15 L670.14 188.14 L672.04 188.14 L673.94 188.14 L675.83 188.14 L677.73 188.13 L679.62 188.13 L681.52 188.13 L683.42 188.12 L685.31 188.12 L687.21 188.12 L689.10 188.11 L691.00 188.11 L692.90 188.11 L694.79 188.10 L696.69 188.10 L698.58 188.09 L700.48 188.09 L702.38 188.08 L704.27 188.08 L706.17 188.07 L708.06 188.06 L709.96 188.06 L711.85 188.05 L713.75 188.04 L715.65 188.03 L717.54 188.02 L719.44 188.02 L721.33 188.01 L723.23 188.00 L725.13 187.99 L727.02 187.97 L728.92 187.96 L730.81 187.95 L732.71 187.94 L734.61 187.92 L736.50 187.91 L738.40 187.89 L740.29 187.88 L742.19 187.86 L744.09 187.84 L745.98 187.82 L747.88 187.80 L749.77 187.78 L751.67 187.76 L753.56 187.74 L755.46 187.71 L757.36 187.68 L759.25 187.66 L761.15 187.63 L763.04 187.60 L764.94 187.56 L766.84 187.53 L768.73 187.49 L770.63 187.46 L772.52 187.41 L774.42 187.37 L776.32 187.33 L778.21 187.28 L780.11 187.23 L782.00 187.18 L783.90 187.12 L785.80 187.06 L787.69 187.00 L789.59 186.93 L791.48 186.86 L793.38 186.79 L795.27 186.72 L797.17 186.63 L799.07 186.55 L800.96 186.46 L802.86 186.36 L804.75 186.26 L806.65 186.16 L808.55 186.05 L810.44 185.93 L812.34 185.81 L814.23 185.67 L816.13 185.54 L818.03 185.39 L819.92 185.24 L821.82 185.08 L823.71 184.91 L825.61 184.73 L827.51 184.54 L829.40 184.35 L831.30 184.14 L833.19 183.92 L835.09 183.69 L836.98 183.45 L838.88 183.19 L840.78 182.92 L842.67 182.64 L844.57 182.34 L846.46 182.03 L848.36 181.70 L850.26 181.36 L852.15 181.00 L854.05 180.62 L855.94 180.22 L857.84 179.80 L859.74 179.36 L861.63 178.90 L863.53 178.41 L865.42 177.91 L867.32 177.37 L869.22 176.82 L871.11 176.23 L873.01 175.62 L874.90 174.98 L876.80 174.31 L878.69 173.61 L880.59 172.88 L882.49 172.12 L884.38 171.32 L886.28 170.49 L888.17 169.62 L890.07 168.71 L891.97 167.77 L893.86 166.78 L895.76 165.76 L897.65 164.69 L899.55 163.58 L901.45 162.43 L903.34 161.23 L905.24 159.99 L907.13 158.70 L909.03 157.36 L910.92 155.98 L912.82 154.55 L914.72 153.06 L916.61 151.53 L918.51 149.95 L920.40 148.31 L922.30 146.62 L924.20 144.88 L926.09 143.09 L927.99 141.25 L929.88 139.35 L931.78 137.40 L933.68 135.39 L935.57 133.34 L937.47 131.23 L939.36 129.07 L941.26 126.85 L943.16 124.59 L945.05 122.27 L946.95 119.90 L948.84 117.48 L950.74 115.01 L952.63 112.49 L954.53 109.93 L956.43 107.31 L958.32 104.65 L960.22 101.95 L962.11 99.20 L964.01 96.40 L965.91 93.57 L967.80 90.69 L969.70 87.77 L971.59 84.81 L973.49 81.81 L975.39 78.78 L977.28 75.71 L979.18 72.60 L981.07 69.46 L982.97 66.28 L984.87 63.08 L986.76 59.84 L988.66 56.57 L990.55 53.28 L992.45 49.96 L994.35 46.61 L996.24 43.23 L998.14 39.83 L1000.03 36.41 L1001.93 32.96 L1003.82 29.50 L1005.72 26.01 L1007.62 22.50 L1009.51 18.97 L1011.41 15.42 L1013.30 11.86 L1015.20 8.28" stroke="#555" stroke-width="1.1" stroke-dasharray="2.9 2.8"/>
<path d="M598.10 108.35 L600.00 111.29 L601.89 114.17 L603.79 116.99 L605.68 119.73 L607.58 122.42 L609.48 125.03 L611.37 127.57 L613.27 130.05 L615.16 132.46 L617.06 134.79 L618.96 137.06 L620.85 139.26 L622.75 141.38 L624.64 143.44 L626.54 145.43 L628.43 147.35 L630.33 149.20 L632.23 150.98 L634.12 152.70 L636.02 154.35 L637.91 155.93 L639.81 157.46 L641.71 158.92 L643.60 160.32 L645.50 161.66 L647.39 162.94 L649.29 164.17 L651.19 165.34 L653.08 166.46 L654.98 167.52 L656.87 168.54 L658.77 169.51 L660.67 170.43 L662.56 171.30 L664.46 172.14 L666.35 172.93 L668.25 173.68 L670.14 174.39 L672.04 175.07 L673.94 175.71 L675.83 176.32 L677.73 176.89 L679.62 177.44 L681.52 177.95 L683.42 178.44 L685.31 178.90 L687.21 179.33 L689.10 179.74 L691.00 180.13 L692.90 180.50 L694.79 180.84 L696.69 181.16 L698.58 181.47 L700.48 181.76 L702.38 182.03 L704.27 182.28 L706.17 182.52 L708.06 182.75 L709.96 182.96 L711.85 183.16 L713.75 183.34 L715.65 183.52 L717.54 183.68 L719.44 183.83 L721.33 183.97 L723.23 184.11 L725.13 184.23 L727.02 184.35 L728.92 184.45 L730.81 184.55 L732.71 184.64 L734.61 184.73 L736.50 184.81 L738.40 184.88 L740.29 184.94 L742.19 185.00 L744.09 185.06 L745.98 185.11 L747.88 185.15 L749.77 185.19 L751.67 185.22 L753.56 185.25 L755.46 185.27 L757.36 185.29 L759.25 185.30 L761.15 185.31 L763.04 185.32 L764.94 185.32 L766.84 185.32 L768.73 185.31 L770.63 185.30 L772.52 185.28 L774.42 185.26 L776.32 185.24 L778.21 185.21 L780.11 185.18 L782.00 185.14 L783.90 185.10 L785.80 185.05 L787.69 185.00 L789.59 184.94 L791.48 184.88 L793.38 184.82 L795.27 184.75 L797.17 184.67 L799.07 184.59 L800.96 184.50 L802.86 184.40 L804.75 184.30 L806.65 184.19 L808.55 184.08 L810.44 183.96 L812.34 183.83 L814.23 183.69 L816.13 183.55 L818.03 183.39 L819.92 183.23 L821.82 183.06 L823.71 182.88 L825.61 182.69 L827.51 182.48 L829.40 182.27 L831.30 182.04 L833.19 181.81 L835.09 181.56 L836.98 181.29 L838.88 181.01 L840.78 180.72 L842.67 180.41 L844.57 180.09 L846.46 179.75 L848.36 179.39 L850.26 179.01 L852.15 178.62 L854.05 178.20 L855.94 177.76 L857.84 177.31 L859.74 176.83 L861.63 176.32 L863.53 175.79 L865.42 175.24 L867.32 174.66 L869.22 174.05 L871.11 173.41 L873.01 172.75 L874.90 172.05 L876.80 171.32 L878.69 170.56 L880.59 169.76 L882.49 168.93 L884.38 168.07 L886.28 167.16 L888.17 166.22 L890.07 165.24 L891.97 164.22 L893.86 163.16 L895.76 162.05 L897.65 160.90 L899.55 159.71 L901.45 158.47 L903.34 157.18 L905.24 155.85 L907.13 154.47 L909.03 153.04 L910.92 151.56 L912.82 150.03 L914.72 148.45 L916.61 146.82 L918.51 145.13 L920.40 143.40 L922.30 141.61 L924.20 139.77 L926.09 137.87 L927.99 135.93 L929.88 133.93 L931.78 131.87 L933.68 129.77 L935.57 127.61 L937.47 125.40 L939.36 123.13 L941.26 120.82 L943.16 118.45 L945.05 116.04 L946.95 113.57 L948.84 111.06 L950.74 108.50 L952.63 105.88 L954.53 103.23 L956.43 100.52 L958.32 97.78 L960.22 94.99 L962.11 92.15 L964.01 89.28 L965.91 86.36 L967.80 83.40 L969.70 80.41 L971.59 77.37 L973.49 74.30 L975.39 71.20 L977.28 68.06 L979.18 64.89 L981.07 61.69 L982.97 58.45 L984.87 55.19 L986.76 51.89 L988.66 48.57 L990.55 45.22 L992.45 41.85 L994.35 38.45 L996.24 35.03 L998.14 31.59 L1000.03 28.12 L1001.93 24.63 L1003.82 21.12 L1005.72 17.60 L1007.62 14.05 L1009.51 10.49 L1011.41 6.91 L1013.30 3.31 L1015.20 -0.30" stroke="#666" stroke-width="1.4"/>
<path d="M598.10 240.69 L600.00 240.69 L601.89 240.69 L603.79 240.69 L605.68 240.69 L607.58 240.69 L609.48 240.69 L611.37 240.69 L613.27 240.69 L615.16 240.69 L617.06 240.68 L618.96 240.68 L620.85 240.68 L622.75 240.68 L624.64 240.68 L626.54 240.68 L628.43 240.68 L630.33 240.68 L632.23 240.68 L634.12 240.67 L636.02 240.67 L637.91 240.67 L639.81 240.67 L641.71 240.67 L643.60 240.67 L645.50 240.66 L647.39 240.66 L649.29 240.66 L651.19 240.66 L653.08 240.66 L654.98 240.65 L656.87 240.65 L658.77 240.65 L660.67 240.64 L662.56 240.64 L664.46 240.64 L666.35 240.64 L668.25 240.63 L670.14 240.63 L672.04 240.62 L673.94 240.62 L675.83 240.61 L677.73 240.61 L679.62 240.60 L681.52 240.60 L683.42 240.59 L685.31 240.59 L687.21 240.58 L689.10 240.57 L691.00 240.57 L692.90 240.56 L694.79 240.55 L696.69 240.54 L698.58 240.54 L700.48 240.53 L702.38 240.52 L704.27 240.51 L706.17 240.49 L708.06 240.48 L709.96 240.47 L711.85 240.46 L713.75 240.45 L715.65 240.43 L717.54 240.42 L719.44 240.40 L721.33 240.38 L723.23 240.37 L725.13 240.35 L727.02 240.33 L728.92 240.31 L730.81 240.28 L732.71 240.26 L734.61 240.24 L736.50 240.21 L738.40 240.18 L740.29 240.16 L742.19 240.12 L744.09 240.09 L745.98 240.06 L747.88 240.02 L749.77 239.99 L751.67 239.95 L753.56 239.90 L755.46 239.86 L757.36 239.81 L759.25 239.76 L761.15 239.71 L763.04 239.66 L764.94 239.60 L766.84 239.54 L768.73 239.48 L770.63 239.41 L772.52 239.34 L774.42 239.26 L776.32 239.18 L778.21 239.10 L780.11 239.01 L782.00 238.92 L783.90 238.82 L785.80 238.71 L787.69 238.61 L789.59 238.49 L791.48 238.37 L793.38 238.24 L795.27 238.11 L797.17 237.96 L799.07 237.82 L800.96 237.66 L802.86 237.49 L804.75 237.32 L806.65 237.13 L808.55 236.94 L810.44 236.74 L812.34 236.52 L814.23 236.29 L816.13 236.06 L818.03 235.81 L819.92 235.54 L821.82 235.27 L823.71 234.98 L825.61 234.67 L827.51 234.35 L829.40 234.01 L831.30 233.65 L833.19 233.28 L835.09 232.89 L836.98 232.48 L838.88 232.05 L840.78 231.59 L842.67 231.12 L844.57 230.62 L846.46 230.10 L848.36 229.55 L850.26 228.98 L852.15 228.37 L854.05 227.75 L855.94 227.09 L857.84 226.40 L859.74 225.68 L861.63 224.93 L863.53 224.14 L865.42 223.32 L867.32 222.47 L869.22 221.58 L871.11 220.65 L873.01 219.68 L874.90 218.67 L876.80 217.62 L878.69 216.52 L880.59 215.39 L882.49 214.21 L884.38 212.98 L886.28 211.71 L888.17 210.39 L890.07 209.03 L891.97 207.61 L893.86 206.15 L895.76 204.64 L897.65 203.07 L899.55 201.46 L901.45 199.79 L903.34 198.07 L905.24 196.30 L907.13 194.47 L909.03 192.60 L910.92 190.67 L912.82 188.68 L914.72 186.65 L916.61 184.56 L918.51 182.41 L920.40 180.22 L922.30 177.97 L924.20 175.68 L926.09 173.33 L927.99 170.93 L929.88 168.48 L931.78 165.98 L933.68 163.43 L935.57 160.83 L937.47 158.19 L939.36 155.50 L941.26 152.77 L943.16 149.99 L945.05 147.17 L946.95 144.31 L948.84 141.40 L950.74 138.46 L952.63 135.48 L954.53 132.46 L956.43 129.40 L958.32 126.30 L960.22 123.18 L962.11 120.02 L964.01 116.82 L965.91 113.60 L967.80 110.34 L969.70 107.06 L971.59 103.74 L973.49 100.41 L975.39 97.04 L977.28 93.65 L979.18 90.24 L981.07 86.80 L982.97 83.34 L984.87 79.86 L986.76 76.36 L988.66 72.84 L990.55 69.30 L992.45 65.74 L994.35 62.16 L996.24 58.57 L998.14 54.97 L1000.03 51.35 L1001.93 47.71 L1003.82 44.06 L1005.72 40.40 L1007.62 36.72 L1009.51 33.04 L1011.41 29.34 L1013.30 25.63 L1015.20 21.91" stroke="#555" stroke-width="1.1" stroke-dasharray="2.9 2.8"/>
<path d="M598.10 180.48 L600.00 182.88 L601.89 185.22 L603.79 187.49 L605.68 189.71 L607.58 191.86 L609.48 193.94 L611.37 195.97 L613.27 197.93 L615.16 199.83 L617.06 201.67 L618.96 203.45 L620.85 205.17 L622.75 206.83 L624.64 208.42 L626.54 209.96 L628.43 211.45 L630.33 212.87 L632.23 214.24 L634.12 215.56 L636.02 216.82 L637.91 218.04 L639.81 219.20 L641.71 220.31 L643.60 221.37 L645.50 222.39 L647.39 223.37 L649.29 224.29 L651.19 225.18 L653.08 226.03 L654.98 226.83 L656.87 227.60 L658.77 228.33 L660.67 229.03 L662.56 229.69 L664.46 230.32 L666.35 230.92 L668.25 231.49 L670.14 232.03 L672.04 232.54 L673.94 233.03 L675.83 233.49 L677.73 233.92 L679.62 234.34 L681.52 234.73 L683.42 235.10 L685.31 235.44 L687.21 235.77 L689.10 236.09 L691.00 236.38 L692.90 236.66 L694.79 236.92 L696.69 237.16 L698.58 237.40 L700.48 237.61 L702.38 237.82 L704.27 238.01 L706.17 238.19 L708.06 238.36 L709.96 238.52 L711.85 238.66 L713.75 238.80 L715.65 238.93 L717.54 239.05 L719.44 239.16 L721.33 239.26 L723.23 239.35 L725.13 239.43 L727.02 239.51 L728.92 239.58 L730.81 239.64 L732.71 239.70 L734.61 239.75 L736.50 239.79 L738.40 239.83 L740.29 239.86 L742.19 239.88 L744.09 239.90 L745.98 239.91 L747.88 239.92 L749.77 239.92 L751.67 239.91 L753.56 239.90 L755.46 239.88 L757.36 239.86 L759.25 239.83 L761.15 239.80 L763.04 239.76 L764.94 239.71 L766.84 239.66 L768.73 239.60 L770.63 239.53 L772.52 239.46 L774.42 239.38 L776.32 239.30 L778.21 239.20 L780.11 239.10 L782.00 239.00 L783.90 238.88 L785.80 238.75 L787.69 238.62 L789.59 238.48 L791.48 238.33 L793.38 238.17 L795.27 238.00 L797.17 237.82 L799.07 237.62 L800.96 237.42 L802.86 237.21 L804.75 236.98 L806.65 236.74 L808.55 236.48 L810.44 236.22 L812.34 235.93 L814.23 235.63 L816.13 235.32 L818.03 234.99 L819.92 234.64 L821.82 234.27 L823.71 233.89 L825.61 233.48 L827.51 233.06 L829.40 232.61 L831.30 232.14 L833.19 231.65 L835.09 231.13 L836.98 230.59 L838.88 230.02 L840.78 229.42 L842.67 228.80 L844.57 228.14 L846.46 227.46 L848.36 226.74 L850.26 226.00 L852.15 225.22 L854.05 224.40 L855.94 223.55 L857.84 222.66 L859.74 221.73 L861.63 220.77 L863.53 219.76 L865.42 218.72 L867.32 217.63 L869.22 216.49 L871.11 215.32 L873.01 214.10 L874.90 212.83 L876.80 211.51 L878.69 210.15 L880.59 208.74 L882.49 207.28 L884.38 205.77 L886.28 204.21 L888.17 202.60 L890.07 200.93 L891.97 199.22 L893.86 197.45 L895.76 195.63 L897.65 193.75 L899.55 191.83 L901.45 189.85 L903.34 187.81 L905.24 185.73 L907.13 183.59 L909.03 181.40 L910.92 179.15 L912.82 176.86 L914.72 174.51 L916.61 172.12 L918.51 169.67 L920.40 167.17 L922.30 164.63 L924.20 162.04 L926.09 159.40 L927.99 156.71 L929.88 153.98 L931.78 151.20 L933.68 148.39 L935.57 145.53 L937.47 142.62 L939.36 139.68 L941.26 136.70 L943.16 133.68 L945.05 130.63 L946.95 127.54 L948.84 124.41 L950.74 121.25 L952.63 118.06 L954.53 114.83 L956.43 111.58 L958.32 108.30 L960.22 104.99 L962.11 101.65 L964.01 98.29 L965.91 94.90 L967.80 91.48 L969.70 88.05 L971.59 84.59 L973.49 81.11 L975.39 77.61 L977.28 74.09 L979.18 70.55 L981.07 67.00 L982.97 63.42 L984.87 59.83 L986.76 56.23 L988.66 52.61 L990.55 48.97 L992.45 45.32 L994.35 41.66 L996.24 37.99 L998.14 34.30 L1000.03 30.61 L1001.93 26.90 L1003.82 23.18 L1005.72 19.45 L1007.62 15.71 L1009.51 11.97 L1011.41 8.21 L1013.30 4.45 L1015.20 0.68" stroke="#666" stroke-width="1.4"/>
<polygon points="606.10,96.03 600.80,105.43 611.40,105.43" stroke="#2a2a2a" stroke-width="1.6"/>
<polygon points="625.80,105.73 620.50,115.13 631.10,115.13" stroke="#2a2a2a" stroke-width="1.6"/>
<polygon points="646.00,116.63 640.70,126.03 651.30,126.03" stroke="#2a2a2a" stroke-width="1.6"/>
<polygon points="666.10,121.23 660.80,130.63 671.40,130.63" stroke="#2a2a2a" stroke-width="1.6"/>
<polygon points="686.40,130.93 681.10,140.33 691.70,140.33" stroke="#2a2a2a" stroke-width="1.6"/>
<polygon points="706.70,133.63 701.40,143.03 712.00,143.03" stroke="#2a2a2a" stroke-width="1.6"/>
<polygon points="726.90,138.93 721.60,148.33 732.20,148.33" stroke="#2a2a2a" stroke-width="1.6"/>
<polygon points="746.90,141.43 741.60,150.83 752.20,150.83" stroke="#2a2a2a" stroke-width="1.6"/>
<polygon points="767.20,142.63 761.90,152.03 772.50,152.03" stroke="#2a2a2a" stroke-width="1.6"/>
<polygon points="787.40,143.73 782.10,153.13 792.70,153.13" stroke="#2a2a2a" stroke-width="1.6"/>
<polygon points="807.50,141.23 802.20,150.63 812.80,150.63" stroke="#2a2a2a" stroke-width="1.6"/>
<polygon points="827.50,142.23 822.20,151.63 832.80,151.63" stroke="#2a2a2a" stroke-width="1.6"/>
<polygon points="847.30,139.23 842.00,148.63 852.60,148.63" stroke="#2a2a2a" stroke-width="1.6"/>
<polygon points="867.50,134.83 862.20,144.23 872.80,144.23" stroke="#2a2a2a" stroke-width="1.6"/>
<polygon points="887.80,127.63 882.50,137.03 893.10,137.03" stroke="#2a2a2a" stroke-width="1.6"/>
<polygon points="908.10,116.83 902.80,126.23 913.40,126.23" stroke="#2a2a2a" stroke-width="1.6"/>
<polygon points="928.40,104.43 923.10,113.83 933.70,113.83" stroke="#2a2a2a" stroke-width="1.6"/>
<polygon points="948.10,81.13 942.80,90.53 953.40,90.53" stroke="#2a2a2a" stroke-width="1.6"/>
<polygon points="968.70,62.03 963.40,71.43 974.00,71.43" stroke="#2a2a2a" stroke-width="1.6"/>
<polygon points="988.80,42.43 983.50,51.83 994.10,51.83" stroke="#2a2a2a" stroke-width="1.6"/>
<polygon points="1009.20,15.63 1003.90,25.03 1014.50,25.03" stroke="#2a2a2a" stroke-width="1.6"/>
<circle cx="605.8" cy="128.8" r="4.7" stroke="#2a2a2a" stroke-width="1.6"/>
<circle cx="625.9" cy="140.7" r="4.7" stroke="#2a2a2a" stroke-width="1.6"/>
<circle cx="645.5" cy="153.5" r="4.7" stroke="#2a2a2a" stroke-width="1.6"/>
<circle cx="665.8" cy="160.6" r="4.7" stroke="#2a2a2a" stroke-width="1.6"/>
<circle cx="686.0" cy="175.2" r="4.7" stroke="#2a2a2a" stroke-width="1.6"/>
<circle cx="706.3" cy="181.0" r="4.7" stroke="#2a2a2a" stroke-width="1.6"/>
<circle cx="726.8" cy="183.2" r="4.7" stroke="#2a2a2a" stroke-width="1.6"/>
<circle cx="746.6" cy="187.0" r="4.7" stroke="#2a2a2a" stroke-width="1.6"/>
<circle cx="767.0" cy="187.2" r="4.7" stroke="#2a2a2a" stroke-width="1.6"/>
<circle cx="786.8" cy="188.6" r="4.7" stroke="#2a2a2a" stroke-width="1.6"/>
<circle cx="807.2" cy="191.0" r="4.7" stroke="#2a2a2a" stroke-width="1.6"/>
<circle cx="827.3" cy="188.4" r="4.7" stroke="#2a2a2a" stroke-width="1.6"/>
<circle cx="847.3" cy="188.2" r="4.7" stroke="#2a2a2a" stroke-width="1.6"/>
<circle cx="867.3" cy="181.2" r="4.7" stroke="#2a2a2a" stroke-width="1.6"/>
<circle cx="888.0" cy="166.6" r="4.7" stroke="#2a2a2a" stroke-width="1.6"/>
<circle cx="908.6" cy="148.0" r="4.7" stroke="#2a2a2a" stroke-width="1.6"/>
<circle cx="928.0" cy="126.8" r="4.7" stroke="#2a2a2a" stroke-width="1.6"/>
<circle cx="948.3" cy="105.1" r="4.7" stroke="#2a2a2a" stroke-width="1.6"/>
<circle cx="969.0" cy="88.0" r="4.7" stroke="#2a2a2a" stroke-width="1.6"/>
<circle cx="988.8" cy="62.8" r="4.7" stroke="#2a2a2a" stroke-width="1.6"/>
<circle cx="1009.0" cy="32.4" r="4.7" stroke="#2a2a2a" stroke-width="1.6"/>
<rect x="601.4" y="192.1" width="8.5" height="8.5" stroke="#2a2a2a" stroke-width="1.6"/>
<rect x="620.8" y="203.2" width="8.5" height="8.5" stroke="#2a2a2a" stroke-width="1.6"/>
<rect x="641.0" y="215.1" width="8.5" height="8.5" stroke="#2a2a2a" stroke-width="1.6"/>
<rect x="661.5" y="222.1" width="8.5" height="8.5" stroke="#2a2a2a" stroke-width="1.6"/>
<rect x="681.8" y="232.2" width="8.5" height="8.5" stroke="#2a2a2a" stroke-width="1.6"/>
<rect x="701.8" y="230.8" width="8.5" height="8.5" stroke="#2a2a2a" stroke-width="1.6"/>
<rect x="722.0" y="239.2" width="8.5" height="8.5" stroke="#2a2a2a" stroke-width="1.6"/>
<rect x="741.8" y="234.6" width="8.5" height="8.5" stroke="#2a2a2a" stroke-width="1.6"/>
<rect x="762.2" y="233.8" width="8.5" height="8.5" stroke="#2a2a2a" stroke-width="1.6"/>
<rect x="782.4" y="233.4" width="8.5" height="8.5" stroke="#2a2a2a" stroke-width="1.6"/>
<rect x="802.6" y="226.9" width="8.5" height="8.5" stroke="#2a2a2a" stroke-width="1.6"/>
<rect x="822.6" y="220.2" width="8.5" height="8.5" stroke="#2a2a2a" stroke-width="1.6"/>
<rect x="842.6" y="213.6" width="8.5" height="8.5" stroke="#2a2a2a" stroke-width="1.6"/>
<rect x="863.2" y="198.7" width="8.5" height="8.5" stroke="#2a2a2a" stroke-width="1.6"/>
<rect x="883.5" y="185.4" width="8.5" height="8.5" stroke="#2a2a2a" stroke-width="1.6"/>
<rect x="903.5" y="167.4" width="8.5" height="8.5" stroke="#2a2a2a" stroke-width="1.6"/>
<rect x="923.8" y="143.2" width="8.5" height="8.5" stroke="#2a2a2a" stroke-width="1.6"/>
<rect x="944.0" y="126.7" width="8.5" height="8.5" stroke="#2a2a2a" stroke-width="1.6"/>
<rect x="964.2" y="99.5" width="8.5" height="8.5" stroke="#2a2a2a" stroke-width="1.6"/>
<rect x="984.5" y="67.8" width="8.5" height="8.5" stroke="#2a2a2a" stroke-width="1.6"/>
<rect x="1004.4" y="36.2" width="8.5" height="8.5" stroke="#2a2a2a" stroke-width="1.6"/>
</g>
</svg></body></html>
